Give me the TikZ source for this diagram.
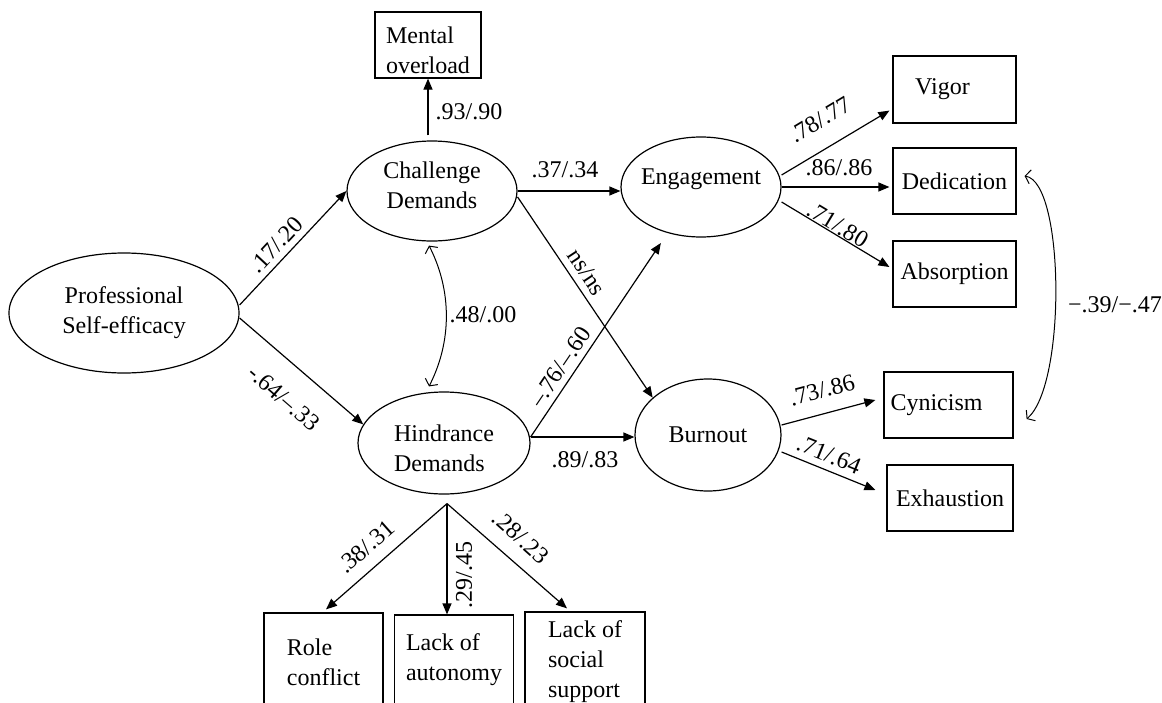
\documentclass[tikz,border=0pt]{standalone}
\usepackage{fontspec}
\setmainfont{Liberation Serif}
\usetikzlibrary{shapes.geometric,arrows.meta,calc}
\begin{document}
\begin{tikzpicture}[x=0.5pt,y=-0.5pt,
  every node/.style={font=\fontsize{12}{15}\selectfont},
  lat/.style={draw, ellipse, inner sep=0pt, line width=0.6pt, align=center},
  obs/.style={draw, rectangle, inner sep=0pt, line width=0.6pt, align=center},
  arr/.style={-{Triangle[length=5.5pt,width=4.5pt]}, line width=0.6pt},
  cov/.style={{Straight Barb[length=2.5pt,width=7pt]}-{Straight Barb[length=2.5pt,width=7pt]}, line width=0.5pt},
  lbl/.style={inner sep=1pt}
]
\useasboundingbox (0,0) rectangle (1162,702);
\clip (0,0) rectangle (1162,702);

% latent variables
\node[lat, minimum width=115pt, minimum height=60pt] (pse) at (124,313) {Professional\\Self-efficacy};
\node[lat, minimum width=85pt, minimum height=50pt] (cd) at (432,191) {Challenge\\Demands\rule[-6pt]{0pt}{6pt}};
\node[lat, minimum width=86pt, minimum height=51pt, align=left] (hd) at (444,443) {\rule{0pt}{13.5pt}Hindrance\\Demands};
\node[lat, minimum width=80pt, minimum height=50pt, inner xsep=-4pt, text depth=10pt] (eng) at (701,187) {Engagement};
\node[lat, minimum width=73pt, minimum height=56pt] (bur) at (708,435) {Burnout};

% observed variables
\node[obs, minimum width=53pt, minimum height=33pt, align=left] (mo) at (428,45) {\rule{0pt}{13.5pt}Mental\\overload};
\node[obs, minimum width=61.5pt, minimum height=33.5pt] (vig) at (954.5,89.5) {Vigor\hspace{12pt}};
\node[obs, minimum width=61.5pt, minimum height=33pt] (ded) at (954.5,181) {Dedication};
\node[obs, minimum width=61.5pt, minimum height=33pt] (absn) at (954.5,274) {Absorption};
\node[obs, minimum width=64.5pt, minimum height=33pt] (cyn) at (948.5,405) {Cynicism\hspace{12pt}};
\node[obs, minimum width=63pt, minimum height=33pt] (exh) at (950,498) {Exhaustion};
\node[obs, minimum width=59.5pt, minimum height=49pt, align=left] (role) at (323.5,662) {Role\\conflict};
\node[obs, minimum width=59.5pt, minimum height=45pt, align=left] (aut) at (454,660) {Lack of\\autonomy};
\node[obs, minimum width=60pt, minimum height=50pt, align=left] (soc) at (585,662) {Lack of\\social\\support};

% helper coordinates
\coordinate (hde) at ([yshift=3pt]hd.east);
\coordinate (hdb) at ($(hd.south)+(3,9)$);

% paths
\draw[arr] ([yshift=4pt]pse.east) -- (cd.west);
\draw[arr] ([yshift=-2.5pt]pse.east) -- (hd.167);
\draw[arr] ($(cd.north -| mo.south)+(0,-5)$) -- (mo.south);
\draw[cov] ($(cd.south)+(-3,4)$) .. controls +(23,45) and +(23,-45) .. ($(hd.north)+(-15,-5)$);
\draw[arr] (cd.east) -- (cd.east -| eng.west);
\draw[arr] ([yshift=-3pt]cd.east) -- (bur.146);
\draw[arr, shorten >=6pt] (hde) -- (eng.234);
\draw[arr] (hde) -- (hde -| bur.west);

\draw[arr] ([yshift=6pt]eng.east) -- ($(vig.south west)+(-3,-13)$);
\draw[arr] (eng.east) -- ($(eng.east -| ded.west)+(-3,0)$);
\draw[arr] ([yshift=-7.5pt]eng.east) -- ($(absn.west)+(-3,-7)$);
\draw[arr] ([yshift=5pt]bur.east) -- ($(cyn.west)+(-8,-5)$);
\draw[arr] ([yshift=-8.5pt]bur.east) -- ($(exh.west)+(-11,-8)$);
\draw[cov] ($(ded.east)+(8,-5)$) .. controls +(40,6) and +(40,-34) .. ($(cyn.east)+(13,14)$);

\draw[arr] (hdb) -- ($(role.north)+(2.5,-3)$);
\draw[arr] (hdb) -- (hdb |- aut.north);
\draw[arr] (hdb) -- ($(soc.north)+(-18,-3)$);

% labels
\node[lbl, rotate=47] (l1) at (276,245) {.17/.20};
\node[lbl, rotate=-41] (l2) at (284,398) {-.64/–.33};
\node[lbl] (l3) at (469,112) {.93/.90};
\node[lbl] (l4) at (483,315) {.48/.00};
\node[lbl] (l5) at (565,170) {.37/.34};
\node[lbl, rotate=-56.5] (l6) at (587,272) {ns/ns};
\node[lbl, rotate=56] (l7) at (560,367) {–.76/–.60};
\node[lbl] (l8) at (585,460) {.89/.83};
\node[lbl, rotate=31] (l9) at (820,120) {.78/.77};
\node[lbl] (l10) at (839,168) {.86/.86};
\node[lbl, rotate=-31] (l11) at (838,225) {.71/.80};
\node[lbl, rotate=15] (l12) at (822,390) {.73/.86};
\node[lbl, rotate=-22] (l13) at (829,455) {.71/.64};
\node[lbl] (l14) at (1115,305) {−.39/−.47};
\node[lbl, rotate=41.5] (l15) at (366,547) {.38/.31};
\node[lbl, rotate=90] (l16) at (464,575) {.29/.45};
\node[lbl, rotate=-41.7] (l17) at (521,537) {.28/.23};
\end{tikzpicture}
\end{document}
